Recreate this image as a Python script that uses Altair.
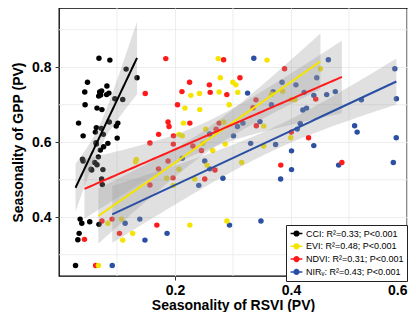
import numpy as np
import pandas as pd
import altair as alt

# ---------------- data ----------------
series_labels = [
    "CCI: R²=0.33; P<0.001",
    "EVI: R²=0.48; P<0.001",
    "NDVI: R²=0.31; P<0.001",
    "NIRᵥ: R²=0.43; P<0.001",
]
series_colors = ["#000000", "#F5E400", "#FF1A1A", "#2A4FA3"]

cci_x = [0.0285, 0.0325, 0.0347, 0.0364, 0.0393, 0.0530, 0.0689, 0.0337, 0.0416, 0.0444,
         0.0450, 0.0491, 0.0405, 0.0416, 0.0564, 0.0615, 0.0655, 0.0644, 0.0627, 0.0644,
         0.0655, 0.0679, 0.0689, 0.0701, 0.0735, 0.0718, 0.0684, 0.0713, 0.0730, 0.0740,
         0.0735, 0.0747, 0.0757, 0.0764, 0.0769, 0.0821, 0.0826, 0.0843, 0.0860, 0.0877,
         0.0867, 0.0963, 0.0986, 0.1014, 0.1003, 0.1099, 0.1157, 0.1345, 0.0638, 0.0552]
cci_y = [0.271, 0.340, 0.357, 0.395, 0.384, 0.388, 0.381, 0.651, 0.617, 0.734,
         0.700, 0.760, 0.555, 0.550, 0.526, 0.546, 0.540, 0.639, 0.627, 0.595,
         0.691, 0.561, 0.824, 0.734, 0.737, 0.726, 0.723, 0.579, 0.637, 0.687,
         0.502, 0.487, 0.527, 0.621, 0.588, 0.727, 0.750, 0.597, 0.731, 0.819,
         0.654, 0.716, 0.643, 0.651, 0.611, 0.714, 0.795, 0.772, 0.599, 0.528]

evi_x = [0.0679, 0.0843, 0.1077, 0.1099, 0.1270, 0.1333, 0.1321, 0.1855, 0.1971, 0.2068,
         0.2068, 0.2125, 0.2145, 0.2171, 0.2256, 0.2274, 0.2338, 0.2422, 0.2427, 0.2482,
         0.2530, 0.2552, 0.2650, 0.2744, 0.2761, 0.2781, 0.2838, 0.2867, 0.2894, 0.2935,
         0.2997, 0.3051, 0.3082, 0.3150, 0.3530, 0.3530, 0.3586, 0.3663, 0.3855, 0.3995,
         0.4009, 0.4068, 0.4508]
evi_y = [0.271, 0.384, 0.395, 0.339, 0.357, 0.554, 0.548, 0.504, 0.485, 0.528,
         0.621, 0.617, 0.651, 0.691, 0.379, 0.725, 0.502, 0.730, 0.687, 0.597,
         0.635, 0.539, 0.578, 0.823, 0.734, 0.772, 0.654, 0.595, 0.390, 0.700,
         0.760, 0.753, 0.733, 0.546, 0.643, 0.590, 0.819, 0.728, 0.736, 0.612,
         0.714, 0.713, 0.796]

ndvi_x = [0.0439, 0.0632, 0.0740, 0.0915, 0.1043, 0.1487, 0.1568, 0.1568, 0.1687, 0.1718,
          0.1715, 0.1841, 0.1880, 0.1897, 0.1880, 0.1974, 0.1971, 0.1966, 0.2043, 0.2120,
          0.2251, 0.2256, 0.2308, 0.2456, 0.2513, 0.2593, 0.2607, 0.2689, 0.2709, 0.2761,
          0.2838, 0.2894, 0.3120, 0.3345, 0.3397, 0.3402, 0.3824, 0.3889, 0.4005, 0.4303,
          0.4427, 0.4877]
ndvi_y = [0.341, 0.271, 0.390, 0.395, 0.357, 0.730, 0.598, 0.486, 0.379, 0.621,
          0.529, 0.823, 0.654, 0.642, 0.550, 0.617, 0.595, 0.505, 0.700, 0.735,
          0.760, 0.651, 0.590, 0.578, 0.502, 0.753, 0.733, 0.526, 0.635, 0.651,
          0.820, 0.727, 0.772, 0.692, 0.713, 0.644, 0.539, 0.796, 0.627, 0.612,
          0.715, 0.546]

nirv_x = [0.0918, 0.1140, 0.1393, 0.1482, 0.1863, 0.2125, 0.2410, 0.2513, 0.2598, 0.2598,
          0.2826, 0.2940, 0.3009, 0.3077, 0.3171, 0.3251, 0.3304, 0.3359, 0.3465, 0.3482,
          0.3663, 0.3692, 0.3735, 0.3821, 0.3846, 0.4009, 0.4009, 0.4085, 0.4108, 0.4159,
          0.4205, 0.4268, 0.4227, 0.4393, 0.4393, 0.4444, 0.4615, 0.4644, 0.4764, 0.4821,
          0.5097, 0.5140, 0.5214, 0.5764, 0.5790, 0.5817, 0.5815]
nirv_y = [0.271, 0.384, 0.395, 0.339, 0.357, 0.557, 0.485, 0.550, 0.529, 0.622,
          0.504, 0.379, 0.617, 0.642, 0.651, 0.731, 0.597, 0.824, 0.655, 0.390,
          0.700, 0.735, 0.594, 0.502, 0.760, 0.577, 0.527, 0.753, 0.635, 0.650,
          0.686, 0.691, 0.733, 0.725, 0.591, 0.772, 0.727, 0.820, 0.735, 0.539,
          0.644, 0.627, 0.713, 0.546, 0.796, 0.716, 0.612]

x_ticks = [0.2, 0.4, 0.6]
y_ticks = [0.4, 0.6, 0.8]
x_minor = [0.1, 0.3, 0.5]
y_minor = [0.3, 0.5, 0.7, 0.9]

x_title = "Seasonality of RSVI (PV)"
y_title = "Seasonality of GPP (PV)"

# ---------------- tables ----------------
xs_all = [cci_x, evi_x, ndvi_x, nirv_x]
ys_all = [cci_y, evi_y, ndvi_y, nirv_y]

# point drawing order: NIRv, NDVI, EVI, CCI (last on top)
pt_frames = []
for i in [3, 2, 1, 0]:
    pt_frames.append(pd.DataFrame({"x": xs_all[i], "y": ys_all[i], "label": series_labels[i]}))
points_df = pd.concat(pt_frames, ignore_index=True)


def t975(df):
    z = 1.959964
    g1 = (z ** 3 + z) / 4
    g2 = (5 * z ** 5 + 16 * z ** 3 + 3 * z) / 96
    g3 = (3 * z ** 7 + 19 * z ** 5 + 17 * z ** 3 - 15 * z) / 384
    return z + g1 / df + g2 / df ** 2 + g3 / df ** 3


fit_frames = []
for xs, ys, lab in zip(xs_all, ys_all, series_labels):
    x = np.asarray(xs)
    y = np.asarray(ys)
    n = len(x)
    b, a = np.polyfit(x, y, 1)
    grid = np.linspace(x.min(), x.max(), 60)
    yhat = a + b * grid
    resid = y - (a + b * x)
    s = np.sqrt((resid ** 2).sum() / (n - 2))
    sxx = ((x - x.mean()) ** 2).sum()
    se = s * np.sqrt(1.0 / n + (grid - x.mean()) ** 2 / sxx)
    t = t975(n - 2)
    fit_frames.append(pd.DataFrame({"x": grid, "fit": yhat, "lo": yhat - t * se,
                                    "hi": yhat + t * se, "label": lab}))
fit_df = pd.concat(fit_frames, ignore_index=True)

# ---------------- encodings ----------------
FONT = "Liberation Sans"
xscale = alt.Scale(domain=[0.0, 0.6], nice=False, zero=False)
yscale = alt.Scale(domain=[0.2433, 0.958], nice=False, zero=False)

xaxis = alt.Axis(values=x_ticks, format=".1f", title=x_title, labelFont=FONT, titleFont=FONT,
                 labelFontSize=14, titleFontSize=14, labelFontWeight="bold",
                 titleFontWeight="bold", labelColor="black", titleColor="black",
                 domain=False, tickColor="#333333", tickSize=4, tickWidth=1,
                 labelPadding=3, titlePadding=1, grid=True, gridColor="#EBEBEB",
                 gridWidth=0.9, labelFlush=True, labelOverlap=False)
yaxis = alt.Axis(values=y_ticks, format=".1f", title=y_title, labelFont=FONT, titleFont=FONT,
                 labelFontSize=14, titleFontSize=14, labelFontWeight="bold",
                 titleFontWeight="bold", labelColor="black", titleColor="black",
                 domain=False, tickColor="#333333", tickSize=4, tickWidth=1,
                 labelPadding=4, titlePadding=6, grid=True, gridColor="#EBEBEB",
                 gridWidth=0.9, labelFlush=False, labelOverlap=False)


def X(field):
    return alt.X(field, type="quantitative", scale=xscale, axis=xaxis)


def Y(field):
    return alt.Y(field, type="quantitative", scale=yscale, axis=yaxis)


legend_symbol = "M-1.25,0H1.25M0.5,0A0.5,0.5 0 1,1 -0.5,0A0.5,0.5 0 1,1 0.5,0Z"
legend = alt.Legend(
    title=None, orient="none", legendX=227, legendY=217, direction="vertical",
    symbolType=legend_symbol, symbolSize=90, symbolStrokeWidth=1.5, symbolOpacity=1,
    labelFont=FONT, labelFontSize=9, labelColor="black", labelOffset=4,
    strokeColor="#222222", fillColor="white", padding=3, rowPadding=1.8,
    cornerRadius=0, labelLimit=200, symbolOffset=2,
)
cscale = alt.Scale(domain=series_labels, range=series_colors)
fill_enc = alt.Fill("label:N", scale=cscale, legend=legend)
stroke_enc = alt.Stroke("label:N", scale=cscale, legend=legend)

# ---------------- layers ----------------
minor_x = alt.Chart(pd.DataFrame({"v": x_minor})).mark_rule(
    color="#EBEBEB", strokeWidth=0.9).encode(x=X("v"))
minor_y = alt.Chart(pd.DataFrame({"v": y_minor})).mark_rule(
    color="#EBEBEB", strokeWidth=0.9).encode(y=Y("v"))

pts = alt.Chart(points_df).mark_circle(size=30, opacity=1).encode(
    x=X("x"), y=Y("y"), fill=fill_enc)

bands = alt.Chart(fit_df).mark_area(color="#999999", opacity=0.3).encode(
    x=X("x"), y=Y("lo"), y2="hi", detail="label:N")

lines = alt.Chart(fit_df).mark_line(strokeWidth=2).encode(
    x=X("x"), y=Y("fit"), stroke=stroke_enc)

chart = alt.layer(minor_x, minor_y, pts, bands, lines).properties(
    width=348, height=268,
    padding={"left": 51, "top": 0, "right": 1, "bottom": 36},
    autosize=alt.AutoSizeParams(type="none"),
    background="white",
).configure_view(stroke="black", strokeWidth=1.3)

chart.save("out.html", embed_options={"renderer": "svg", "actions": False})
